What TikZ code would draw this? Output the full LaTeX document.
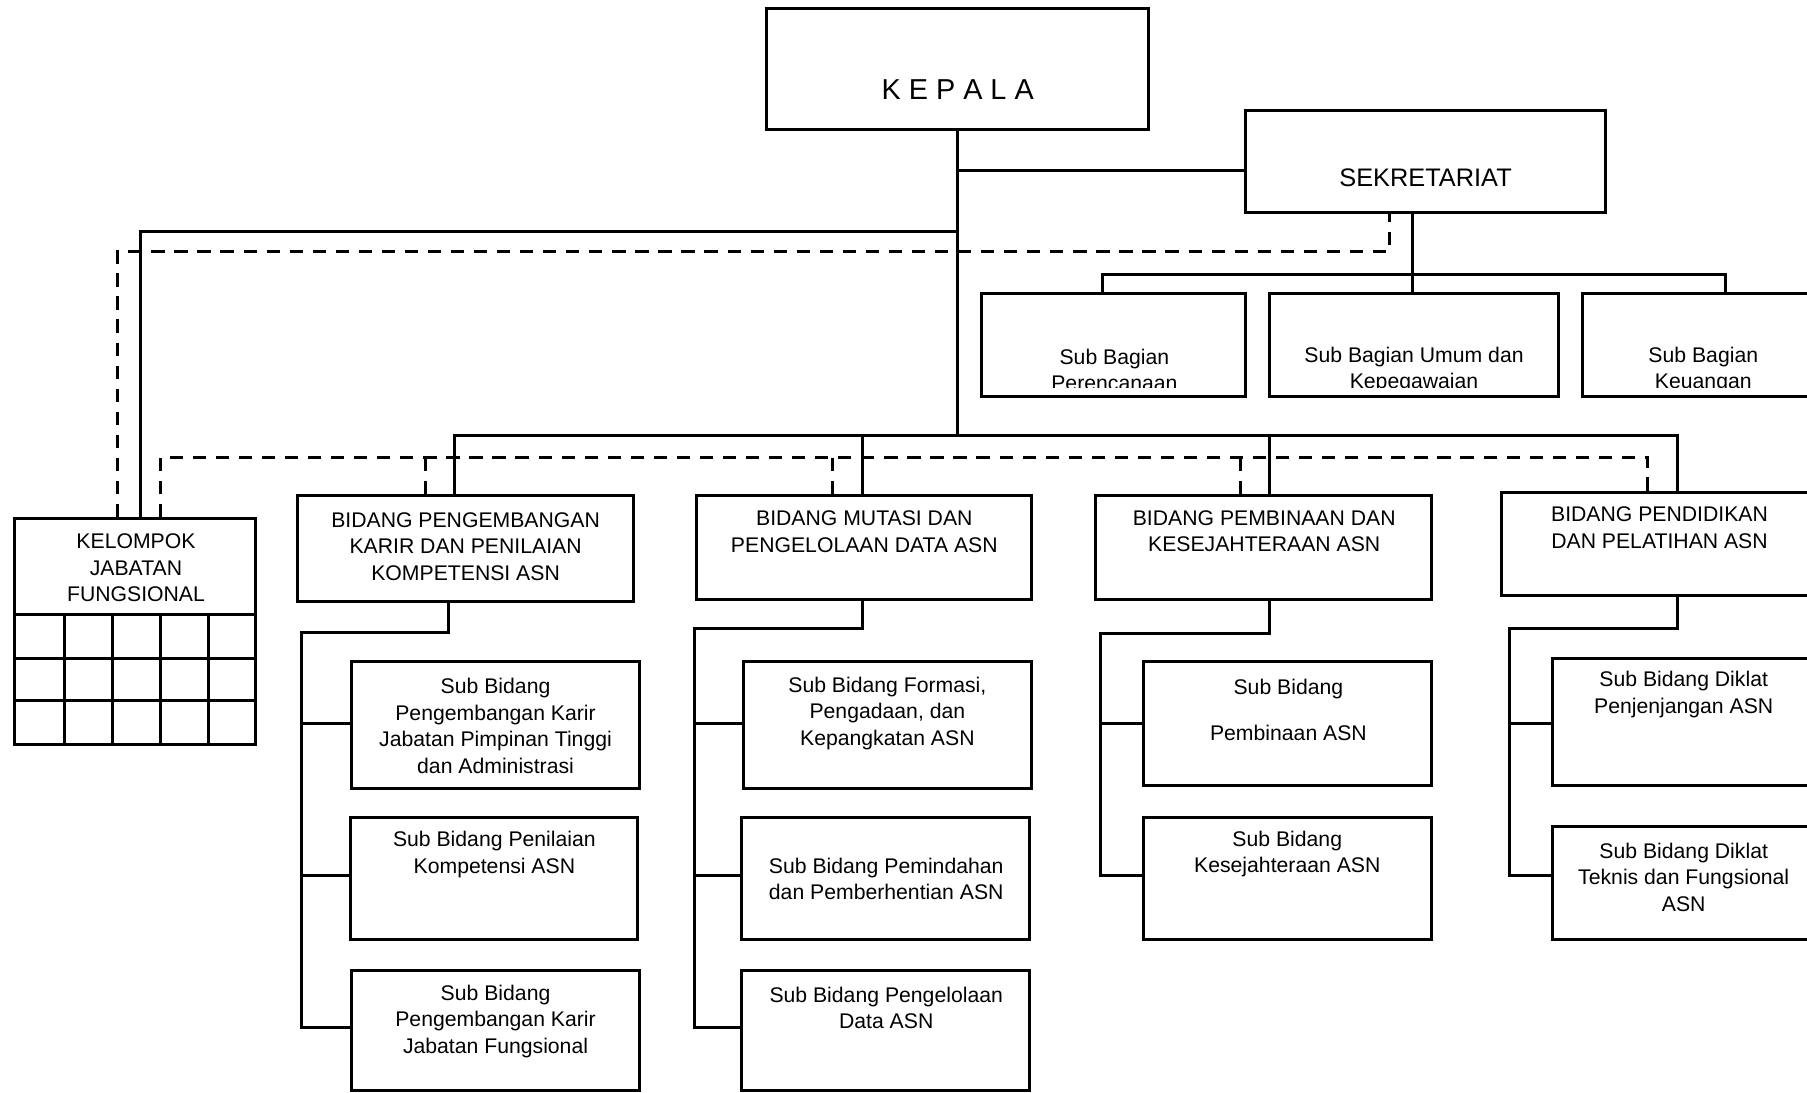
\documentclass[tikz,border=0pt]{standalone}
\usepackage{fontspec}
\setmainfont{Liberation Sans}
\usetikzlibrary{fit}
\tikzset{
  box/.style={draw, line width=2.6pt, inner sep=0pt},
  ln/.style={line width=2.6pt},
  dsh/.style={line width=2.6pt, dash pattern=on 11.5pt off 8.5pt},
  txt/.style={align=center, inner sep=0pt, font=\fontsize{18.4}{23}\selectfont},
}
\begin{document}
\begin{tikzpicture}[x=1pt,y=-1pt]
\useasboundingbox[fill=white] (0,0) rectangle (1568,948);

% top boxes
\node[box, fit={(665,7) (997,112)}] (kepala) {};
\node[inner sep=0pt, font=\fontsize{25}{30}\selectfont] (tkepala) at (831,78) {K E P A L A};
\node[box, fit={(1081,96) (1393,184)}] (sek) {};
\node[inner sep=0pt, font=\fontsize{22}{26}\selectfont] (tsek) at (1237,154) {SEKRETARIAT};

% sub bagian
\node[box, fit={(852,255) (1081,344)}] (sba1) {};
\node[box, fit={(1102,255) (1352,344)}] (sba2) {};
\node[box, fit={(1373,255) (1583,344)}] (sba3) {};
\begin{scope}
\clip (840,250) rectangle (1568,336);
\node[txt] (tsba1) at (967,321) {Sub Bagian\\Perencanaan};
\node[txt] (tsba2) at (1227,321) {Sub Bagian Umum dan\\Kepegawaian};
\node[txt] (tsba3) at (1478,321) {Sub Bagian\\Keuangan};
\end{scope}

% kelompok jabatan fungsional
\node[box, fit={(13,450) (222,646)}] (kel) {};
\node[txt] (tkel) at (118,493) {KELOMPOK\\JABATAN\\FUNGSIONAL};
\draw[ln] (13,533) -- (222,533) (13,571) -- (222,571) (13,608) -- (222,608);
\draw[ln] (56,533) -- (56,646) (98,533) -- (98,646) (139,533) -- (139,646) (181,533) -- (181,646);

% bidang boxes
\node[box, fit={(258,430) (550,522)}] (b1) {};
\node[txt] (tb1) at (404,474) {BIDANG PENGEMBANGAN\\KARIR DAN PENILAIAN\\KOMPETENSI ASN};
\node[box, fit={(604,430) (895,520)}] (b2) {};
\node[txt] (tb2) at (750,461.5) {BIDANG MUTASI DAN\\PENGELOLAAN DATA ASN};
\node[box, fit={(951,430) (1242,520)}] (b3) {};
\node[txt] (tb3) at (1097,461) {BIDANG PEMBINAAN DAN\\KESEJAHTERAAN ASN};
\node[box, fit={(1303,427) (1577,517)}] (b4) {};
\node[txt] (tb4) at (1440,458) {BIDANG PENDIDIKAN\\DAN PELATIHAN ASN};

% sub bidang boxes
\node[box, fit={(305,574) (555,684)}] (s11) {};
\node[txt] (ts11) at (430,630) {Sub Bidang\\Pengembangan Karir\\Jabatan Pimpinan Tinggi\\dan Administrasi};
\node[box, fit={(304,709) (553,815)}] (s12) {};
\node[txt] (ts12) at (429,741.5) {Sub Bidang Penilaian\\Kompetensi ASN};
\node[box, fit={(305,842) (555,946)}] (s13) {};
\node[txt] (ts13) at (430,886) {Sub Bidang\\Pengembangan Karir\\Jabatan Fungsional};

\node[box, fit={(645,574) (895,684)}] (s21) {};
\node[txt] (ts21) at (770,619) {Sub Bidang Formasi,\\Pengadaan, dan\\Kepangkatan ASN};
\node[box, fit={(643,709) (893,815)}] (s22) {};
\node[txt] (ts22) at (769,762.5) {Sub Bidang Pemindahan\\dan Pemberhentian ASN};
\node[box, fit={(643,842) (893,946)}] (s23) {};
\node[txt] (ts23) at (769,874.5) {Sub Bidang Pengelolaan\\Data ASN};

\node[box, fit={(992,574) (1242,682)}] (s31) {};
\node[txt] (ts31) at (1118,616) {Sub Bidang\\[17pt]Pembinaan ASN};
\node[box, fit={(992,709) (1242,815)}] (s32) {};
\node[txt] (ts32) at (1117,741) {Sub Bidang\\Kesejahteraan ASN};

\node[box, fit={(1347,571) (1575,682)}] (s41) {};
\node[txt] (ts41) at (1461,602.5) {Sub Bidang Diklat\\Penjenjangan ASN};
\node[box, fit={(1347,717) (1575,815)}] (s42) {};
\node[txt] (ts42) at (1461,761) {Sub Bidang Diklat\\Teknis dan Fungsional\\ASN};

% ---- connectors ----
\coordinate (busK) at (831,378);
\draw[ln] (kepala.south) -- (busK);
\coordinate (sj) at (831,148);
\draw[ln] (sj) -- (sj -| sek.west);
\coordinate (kj) at (831,201);
\coordinate (kc) at (122,201);
\draw[ln] (kj) -- (kc) -- (kc |- kel.north);

\coordinate (sb) at (1226,238);
\coordinate (sbl) at (957,238);
\coordinate (sbr) at (1497,238);
\draw[ln] (sb |- sek.south) -- (sb) -- (sb |- sba2.north);
\draw[ln] (sbl |- sba1.north) -- (sbl) -- (sbr) -- (sbr |- sba3.north);

\coordinate (j1) at (394,378);
\coordinate (j2) at (748,378);
\coordinate (j3) at (1102,378);
\coordinate (j4) at (1456,378);
\draw[ln] (j1 |- b1.north) -- (j1) -- (j4) -- (j4 |- b4.north);
\draw[ln] (j2) -- (j2 |- b2.north);
\draw[ln] (j3) -- (j3 |- b3.north);

% dashed
\coordinate (d0) at (102,218);
\coordinate (d1) at (1206,218);
\draw[dsh] (d0 |- kel.north) -- (d0) -- (d1) -- (d1 |- sek.south);
\coordinate (e0) at (139,397);
\coordinate (e1) at (369,397);
\coordinate (e2) at (722,397);
\coordinate (e3) at (1076,397);
\coordinate (e4) at (1430,397);
\draw[dsh] (e0 |- kel.north) -- (e0) -- (e4) -- (e4 |- b4.north);
\draw[dsh] (e1) -- (e1 |- b1.north);
\draw[dsh] (e2) -- (e2 |- b2.north);
\draw[dsh] (e3) -- (e3 |- b3.north);

% column 1
\coordinate (c1a) at (389,549);
\coordinate (c1b) at (262,549);
\coordinate (r11) at (262,628);
\coordinate (r12) at (262,760);
\coordinate (r13) at (262,892);
\draw[ln] (c1a |- b1.south) -- (c1a) -- (c1b) -- (r13) -- (r13 -| s13.west);
\draw[ln] (r11) -- (r11 -| s11.west);
\draw[ln] (r12) -- (r12 -| s12.west);

% column 2
\coordinate (c2a) at (748,545);
\coordinate (c2b) at (603,545);
\coordinate (r21) at (603,628);
\coordinate (r22) at (603,760);
\coordinate (r23) at (603,892);
\draw[ln] (c2a |- b2.south) -- (c2a) -- (c2b) -- (r23) -- (r23 -| s23.west);
\draw[ln] (r21) -- (r21 -| s21.west);
\draw[ln] (r22) -- (r22 -| s22.west);

% column 3
\coordinate (c3a) at (1102,550);
\coordinate (c3b) at (955,550);
\coordinate (r31) at (955,628);
\coordinate (r32) at (955,760);
\draw[ln] (c3a |- b3.south) -- (c3a) -- (c3b) -- (r32) -- (r32 -| s32.west);
\draw[ln] (r31) -- (r31 -| s31.west);

% column 4
\coordinate (c4a) at (1456,545);
\coordinate (c4b) at (1310,545);
\coordinate (r41) at (1310,628);
\coordinate (r42) at (1310,760);
\draw[ln] (c4a |- b4.south) -- (c4a) -- (c4b) -- (r42) -- (r42 -| s42.west);
\draw[ln] (r41) -- (r41 -| s41.west);
\end{tikzpicture}
\end{document}
